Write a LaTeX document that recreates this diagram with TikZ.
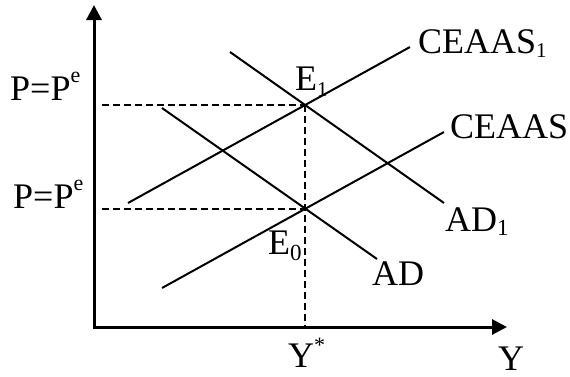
\documentclass[tikz,border=0pt]{standalone}
\usepackage{fontspec}
\setmainfont{Liberation Serif}
\usetikzlibrary{arrows.meta,calc}
\newcommand{\lowidx}[3]{\raisebox{-#1pt}{\fontsize{#2}{#2}\selectfont #3}}
\newcommand{\hiidx}[3]{\raisebox{#1pt}{\fontsize{#2}{#2}\selectfont #3}}
\tikzset{
  axisline/.style={line width=3pt, {Triangle[length=15pt,width=15pt]}-{Triangle[length=15pt,width=15pt]}},
  curve/.style={line width=2pt},
  guide/.style={line width=1.8pt, dash pattern=on 7pt off 4pt},
  lbl/.style={anchor=base west, inner sep=0pt, font=\fontsize{36}{40}\selectfont}
}

\begin{document}
\begin{tikzpicture}[x=1pt, y=-1pt]
\useasboundingbox (0,0) rectangle (570,376);
% axes
\coordinate (O) at (94,327);
\coordinate (ytop) at (94,5);
\coordinate (xend) at (507,327);
\draw[axisline] (ytop) -- (O) -- (xend);
% supply and demand lines
\foreach \n/\xa/\ya/\xb/\yb in {cs1/128/203/410/47, cs/162/288/444/132,
                                ad1/230/52/444/203, ad/162/108/377/259} {
  \coordinate (\n-a) at (\xa,\ya);
  \coordinate (\n-b) at (\xb,\yb);
  \draw[curve] (\n-a) -- (\n-b);
}
\coordinate (E1) at (intersection of cs1-a--cs1-b and ad1-a--ad1-b);
\coordinate (E0) at (intersection of cs-a--cs-b and ad-a--ad-b);
% guides to the axes
\draw[guide] ($(E1 -| O)+(8,0)$) -- (E1);
\draw[guide] ($(E0 -| O)+(8,0)$) -- (E0);
\draw[guide] (E1) -- (E1 |- O);
% labels
\node[lbl] (cs1lbl) at (418,53) {CEAAS\lowidx{4}{21}{1}};
\node[lbl] (cslbl) at (450,138) {CEAAS};
\node[lbl] (ad1lbl) at (445,231) {AD\lowidx{4}{23}{1}};
\node[lbl] (adlbl) at (372,285) {AD};
\node[lbl] (e1lbl) at (295,90) {E\lowidx{6}{21}{1}};
\node[lbl] (e0lbl) at (268,254) {E\lowidx{6}{23}{0}};
\node[lbl] (p1lbl) at (10,100) {P=P\hiidx{18}{22}{e}};
\node[lbl] (p0lbl) at (13,208) {P=P\hiidx{18}{22}{e}};
\node[lbl] (ystar) at (288,367) {Y\hiidx{15}{22}{*}};
\node[lbl] (ylbl) at (498,370) {Y};
\end{tikzpicture}
\end{document}
